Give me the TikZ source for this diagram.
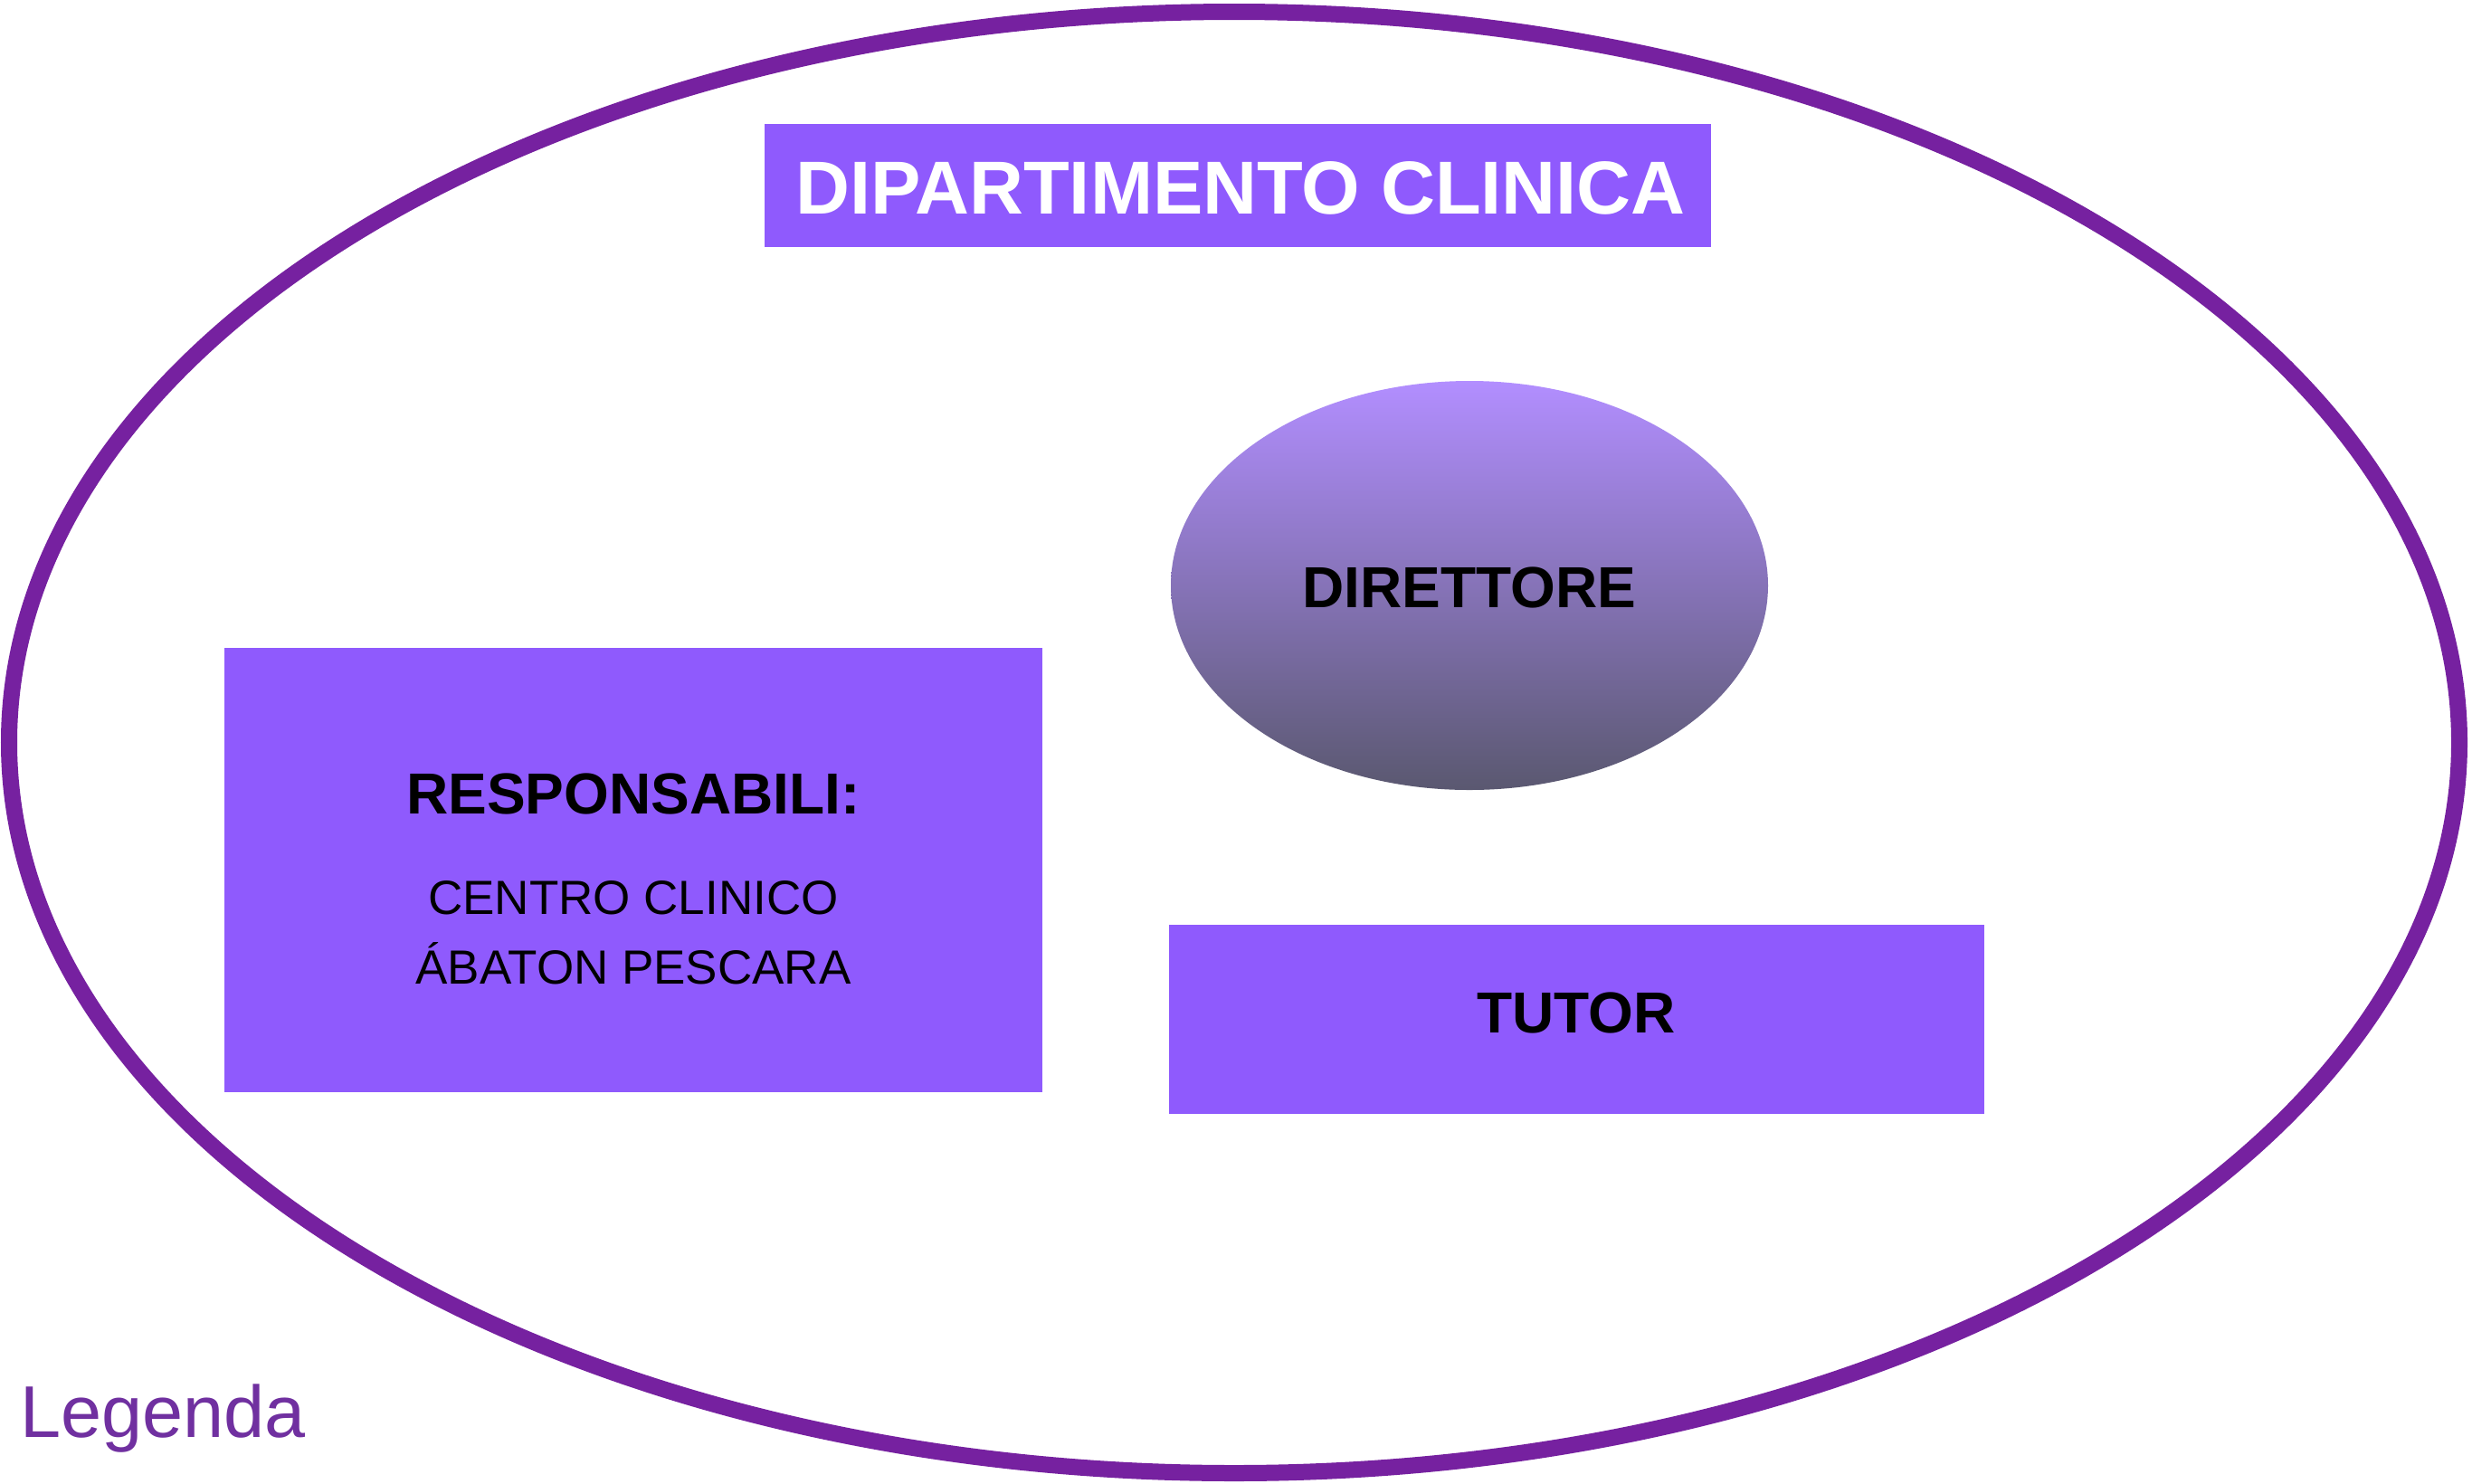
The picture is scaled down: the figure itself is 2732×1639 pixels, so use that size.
\documentclass[tikz,border=0pt]{standalone}
\usepackage{fontspec}
\setmainfont{Liberation Sans}
\usetikzlibrary{shapes.geometric}
\definecolor{boxfill}{HTML}{8F5AFD}
\definecolor{ringcol}{HTML}{7621A0}
\definecolor{legcol}{HTML}{7030A0}
\definecolor{dirtop}{HTML}{B28EFF}
\definecolor{dirbot}{HTML}{5A5870}
\tikzset{
  purplebox/.style={rectangle, fill=boxfill, draw=none, inner sep=0pt},
  boldlabel/.style={anchor=base, inner sep=0pt, font=\fontsize{64}{77}\selectfont\bfseries, text=black},
  plainlabel/.style={anchor=base, inner sep=0pt, font=\fontsize{53}{64}\selectfont, text=black},
}
\begin{document}
\begin{tikzpicture}[x=1pt,y=-1pt]
\useasboundingbox[fill=white] (0,0) rectangle (2732,1639);
% outer department ellipse
\node[ellipse, draw=ringcol, line width=18pt, minimum width=2708pt, minimum height=1615pt, inner sep=0pt] (dept) at (1364,820.5) {};
% title
\node[purplebox, minimum width=1046pt, minimum height=136pt] (titlebox) at (1368,205) {};
\node[anchor=base, inner sep=0pt, font=\fontsize{83}{99}\selectfont\bfseries, text=white] (titletext) at (1371,236) {DIPARTIMENTO CLINICA};
% direttore
\node[ellipse, draw=none, top color=dirtop, bottom color=dirbot, minimum width=660pt, minimum height=452pt, inner sep=0pt] (dir) at (1624,647) {};
\node[boldlabel] (dirtext) at (1624,671) {DIRETTORE};
% responsabili
\node[purplebox, minimum width=904pt, minimum height=491pt] (resp) at (700,961.5) {};
\node[boldlabel] (resptitle) at (700,899) {RESPONSABILI:};
\node[plainlabel] (respl1) at (700,1010) {CENTRO CLINICO};
\node[plainlabel] (respl2) at (700,1087) {ÁBATON PESCARA};
% tutor
\node[purplebox, minimum width=901pt, minimum height=209pt] (tutor) at (1742.5,1126.5) {};
\node[boldlabel] (tutortext) at (1742,1141) {TUTOR};
% legenda
\node[anchor=base west, inner sep=0pt, font=\fontsize{81}{97}\selectfont, text=legcol] (legenda) at (22,1588) {Legenda};
\end{tikzpicture}
\end{document}
